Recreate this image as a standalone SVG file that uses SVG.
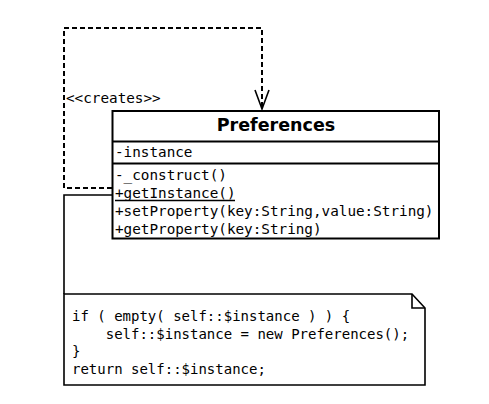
<svg xmlns="http://www.w3.org/2000/svg" width="489" height="404" viewBox="0 0 489 404">
<style>
.mono{font-family:"DejaVu Sans Mono","Liberation Mono",monospace;font-size:14.3px;fill:#000}
.code{font-family:"DejaVu Sans Mono","Liberation Mono",monospace;font-size:14px;fill:#000}
.title{font-family:"DejaVu Sans","Liberation Sans",sans-serif;font-size:17.5px;font-weight:bold;fill:#000}
.box{fill:#fff;stroke:#000;stroke-width:2}
.dash{fill:none;stroke:#000;stroke-width:2;stroke-dasharray:5,3}
.solid{fill:none;stroke:#000;stroke-width:1.6}
</style>
<rect width="489" height="404" fill="#fff"/>
<g id="connectors">
  <path class="dash" d="M112,188 H64 V28 H262 V108"/>
  <path class="solid" d="M255,90 L262,109 L269,90"/>
  <text class="mono" x="66" y="103">&lt;&lt;creates&gt;&gt;</text>
  <path class="solid" d="M112,195 H64 V294"/>
</g>
<g id="Preferences">
  <rect class="box" x="112.5" y="111" width="326.5" height="127.5"/>
  <line class="box" x1="112.5" y1="141.5" x2="439" y2="141.5"/>
  <line class="box" x1="112.5" y1="163.5" x2="439" y2="163.5"/>
  <text class="title" x="276" y="131" text-anchor="middle">Preferences</text>
  <text class="mono" x="115" y="157">-instance</text>
  <text class="mono" x="115" y="180">-_construct()</text>
  <text class="mono" x="115" y="198">+getInstance()</text>
  <line x1="115" y1="200.5" x2="235" y2="200.5" stroke="#000" stroke-width="1.5"/>
  <text class="mono" x="115" y="216">+setProperty(key:String,value:String)</text>
  <text class="mono" x="115" y="234">+getProperty(key:String)</text>
</g>
<g id="note">
  <path d="M64,294 H412 L425,308 V385 H64 Z" fill="#fff" stroke="#000" stroke-width="1.6"/>
  <path d="M412,294 V308 H425" fill="none" stroke="#000" stroke-width="1.6"/>
  <text class="code" x="72" y="321" xml:space="preserve">if ( empty( self::$instance ) ) {</text>
  <text class="code" x="72" y="339" xml:space="preserve">    self::$instance = new Preferences();</text>
  <text class="code" x="72" y="356">}</text>
  <text class="code" x="72" y="374">return self::$instance;</text>
</g>
</svg>
